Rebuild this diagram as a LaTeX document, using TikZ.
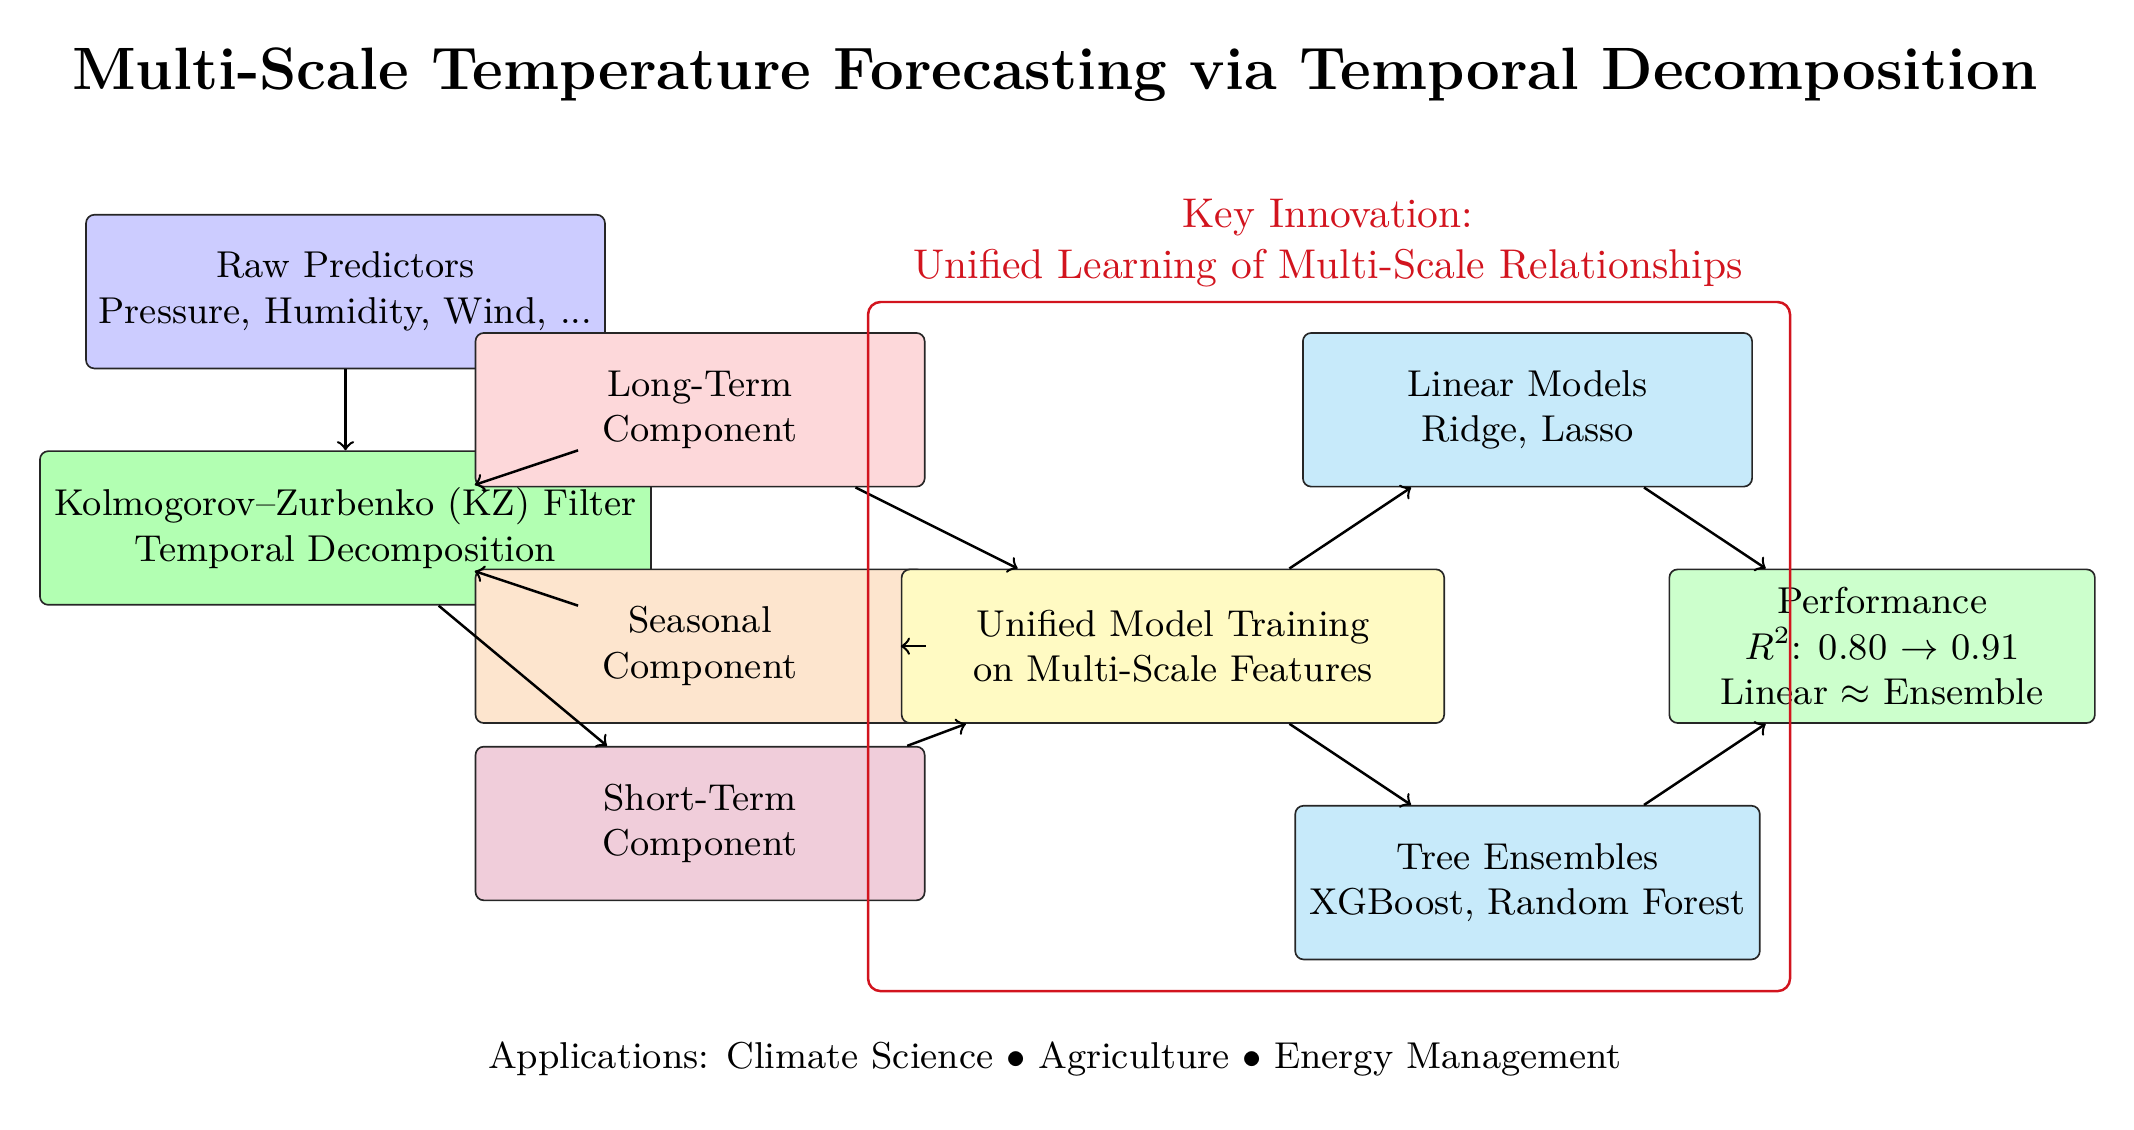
\documentclass[tikz,border=0pt]{standalone}
\usetikzlibrary{positioning,calc}
\definecolor{cRaw}{RGB}{204,204,255}
\definecolor{cKZ}{RGB}{178,255,178}
\definecolor{cLong}{RGB}{253,216,218}
\definecolor{cSeas}{RGB}{253,229,206}
\definecolor{cShort}{RGB}{240,205,218}
\definecolor{cUni}{RGB}{255,250,195}
\definecolor{cModel}{RGB}{199,234,250}
\definecolor{cPerf}{RGB}{204,255,204}
\definecolor{cRed}{RGB}{210,20,30}
\tikzset{
  box/.style={draw=black!85, rounded corners=2pt, align=center, minimum height=1.3cm, inner sep=2pt, font=\fontsize{9}{11}\selectfont},
  arr/.style={->, semithick},
}
\begin{document}
\begin{tikzpicture}
\useasboundingbox (0,0) rectangle (18.054,-9.560);
\node[font=\Large\bfseries] (title) at (8.925,-0.635) {Multi-Scale Temperature Forecasting via Temporal Decomposition};
\coordinate (o) at (2.923,-4.467);
\node[box, fill=cRaw, minimum width=4.39cm] (raw) at ($(o)+(0,2)$) {Raw Predictors\\Pressure, Humidity, Wind, ...};
\node[box, fill=cKZ, minimum width=5.17cm] (kz) at (o) {Kolmogorov--Zurbenko (KZ) Filter\\Temporal Decomposition};
\node[box, fill=cLong, minimum width=3.8cm] (long) at ($(o)+(3,1)$) {Long-Term\\Component};
\node[box, fill=cSeas, minimum width=3.8cm] (seas) at ($(o)+(3,-1)$) {Seasonal\\Component};
\node[box, fill=cShort, minimum width=3.8cm] (short) at ($(o)+(3,-2.5)$) {Short-Term\\Component};
\node[box, fill=cUni, minimum width=4.59cm] (uni) at ($(o)+(7,-1)$) {Unified Model Training\\on Multi-Scale Features};
\node[box, fill=cModel, minimum width=3.8cm] (lin) at ($(o)+(10,1)$) {Linear Models\\Ridge, Lasso};
\node[box, fill=cModel, minimum width=3.93cm] (tree) at ($(o)+(10,-3)$) {Tree Ensembles\\XGBoost, Random Forest};
\node[box, fill=cPerf, minimum width=3.6cm] (perf) at ($(o)+(13,-1)$) {Performance\\$R^2$: 0.80 $\rightarrow$ 0.91\\Linear $\approx$ Ensemble};
\draw[arr] (raw) -- (kz);
\draw[arr] (kz) -- (long);
\draw[arr] (kz) -- (seas);
\draw[arr] (kz) -- (short);
\draw[arr] (long) -- (uni);
\draw[arr] (seas) -- (uni);
\draw[arr] (short) -- (uni);
\draw[arr] (uni) -- (lin);
\draw[arr] (uni) -- (tree);
\draw[arr] (lin) -- (perf);
\draw[arr] (tree) -- (perf);
\node[draw=cRed, semithick, rounded corners=3pt, minimum width=7.80cm, minimum height=5.83cm] (frame) at (11.244,-5.470) {};
\node[text=cRed, align=center, font=\fontsize{10}{12.4}\selectfont] (key) at (11.235,-2.055) {Key Innovation:\\Unified Learning of Multi-Scale Relationships};
\node[font=\fontsize{9}{11}\selectfont] (apps) at (8.925,-8.962) {Applications: Climate Science $\bullet$ Agriculture $\bullet$ Energy Management};
\end{tikzpicture}
\end{document}
